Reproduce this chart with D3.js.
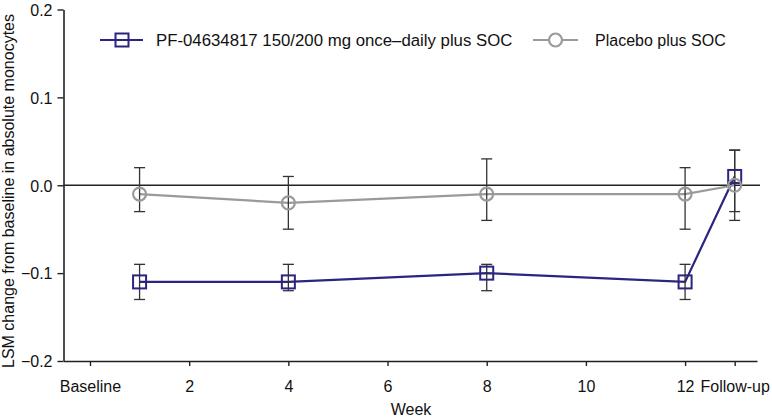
<!DOCTYPE html>
<html><head><meta charset="utf-8">
<script src="https://cdn.jsdelivr.net/npm/d3@7"></script>
<style>body{margin:0;background:#fff;} text{font-family:"Liberation Sans",Arial,Helvetica,sans-serif;}</style>
</head><body><svg id="c" width="772" height="418"></svg>
<script>
const tickWeeks = [0, 2, 4, 6, 8, 10, 12, 13];
const tickLabels = ["Baseline", "2", "4", "6", "8", "10", "12", "Follow-up"];
const yTicks = [0.2, 0.1, 0.0, -0.1, -0.2];
const weeks = [1, 4, 8, 12, 13];
const pfMean = [-0.11, -0.11, -0.10, -0.11, 0.01];
const pfLow  = [-0.13, -0.12, -0.12, -0.13, -0.03];
const pfHigh = [-0.09, -0.09, -0.09, -0.09, 0.04];
const pbMean = [-0.01, -0.02, -0.01, -0.01, 0.00];
const pbLow  = [-0.03, -0.05, -0.04, -0.05, -0.04];
const pbHigh = [0.02, 0.01, 0.03, 0.02, 0.04];
const seriesNames = ["PF-04634817 150/200 mg once\u2013daily plus SOC", "Placebo plus SOC"];

const svg = d3.select("#c");
const x = d3.scaleLinear().domain([-0.534, 13.45]).range([63.5, 757]);
const y = d3.scaleLinear().domain([-0.2, 0.2]).range([361, 9.5]);
const axisCol = "#222", blue = "#2b2580", gray = "#9a9a9a", ebCol = "#333";
const fs = "16px";

// axes
const yAxis = svg.append("g").attr("transform", "translate(63.5,0)")
  .call(d3.axisLeft(y).tickValues(yTicks).tickFormat(d3.format(".1f")).tickSize(6).tickSizeOuter(0));
const xAxis = svg.append("g").attr("transform", "translate(0,361)")
  .call(d3.axisBottom(x).tickValues(tickWeeks).tickFormat((d, i) => tickLabels[i]).tickSize(5).tickSizeOuter(0));
[yAxis, xAxis].forEach(g => {
  g.selectAll("path.domain").attr("stroke", axisCol).attr("stroke-width", 1.6);
  g.selectAll(".tick line").attr("stroke", axisCol).attr("stroke-width", 1.4);
  g.selectAll(".tick text").attr("fill", "#111").style("font-size", fs)
    .style("font-family", "Liberation Sans, Arial, sans-serif");
});
yAxis.selectAll(".tick text").attr("x", -11).attr("dy", "0.36em");
xAxis.selectAll(".tick text").attr("y", 31).attr("dy", "0");

// zero line
svg.append("line").attr("x1", 63.5).attr("x2", 760).attr("y1", y(0)).attr("y2", y(0))
  .attr("stroke", axisCol).attr("stroke-width", 1.6);

// axis titles
svg.append("text").attr("transform", `translate(13.5,368) rotate(-90)`)
  .attr("text-anchor", "start").style("font-size", fs).attr("fill", "#111")
  .text("LSM change from baseline in absolute monocytes");
svg.append("text").attr("x", 411).attr("y", 415).attr("text-anchor", "middle")
  .style("font-size", fs).attr("fill", "#111").text("Week");

const line = d3.line().x(d => x(d[0])).y(d => y(d[1]));
const pf = weeks.map((w, i) => [w, pfMean[i], pfLow[i], pfHigh[i]]);
const pb = weeks.map((w, i) => [w, pbMean[i], pbLow[i], pbHigh[i]]);

svg.append("path").datum(pf).attr("d", line).attr("fill", "none").attr("stroke", blue).attr("stroke-width", 2.2);
svg.append("path").datum(pb).attr("d", line).attr("fill", "none").attr("stroke", gray).attr("stroke-width", 2.2);

// error bars
function errBars(data) {
  const g = svg.append("g").attr("stroke", ebCol).attr("stroke-width", 1.3);
  data.forEach(d => {
    g.append("line").attr("x1", x(d[0])).attr("x2", x(d[0])).attr("y1", y(d[2])).attr("y2", y(d[3]));
    [d[2], d[3]].forEach(v => g.append("line").attr("x1", x(d[0]) - 5.5).attr("x2", x(d[0]) + 5.5)
      .attr("y1", y(v)).attr("y2", y(v)));
  });
}
errBars(pf); errBars(pb);

// markers
svg.append("g").selectAll("rect").data(pf).join("rect")
  .attr("x", d => x(d[0]) - 6.5).attr("y", d => y(d[1]) - 6.5).attr("width", 13).attr("height", 13)
  .attr("fill", "none").attr("stroke", blue).attr("stroke-width", 2);
svg.append("g").selectAll("circle").data(pb).join("circle")
  .attr("cx", d => x(d[0])).attr("cy", d => y(d[1])).attr("r", 6.5)
  .attr("fill", "none").attr("stroke", gray).attr("stroke-width", 2.2);

// legend
const lg = svg.append("g");
lg.append("line").attr("x1", 100).attr("x2", 143).attr("y1", 40).attr("y2", 40).attr("stroke", blue).attr("stroke-width", 2.2);
lg.append("rect").attr("x", 115.5).attr("y", 33.5).attr("width", 13).attr("height", 13).attr("fill", "none").attr("stroke", blue).attr("stroke-width", 2);
lg.append("text").attr("x", 156).attr("y", 46).style("font-size", "16.8px").attr("fill", "#111").text(seriesNames[0]);
lg.append("line").attr("x1", 533).attr("x2", 578).attr("y1", 40).attr("y2", 40).attr("stroke", gray).attr("stroke-width", 2.2);
lg.append("circle").attr("cx", 555.5).attr("cy", 40).attr("r", 6.5).attr("fill", "#fff").attr("stroke", gray).attr("stroke-width", 2.2);
lg.append("text").attr("x", 595).attr("y", 46).style("font-size", "16px").attr("fill", "#111").text(seriesNames[1]);
</script></body></html>
